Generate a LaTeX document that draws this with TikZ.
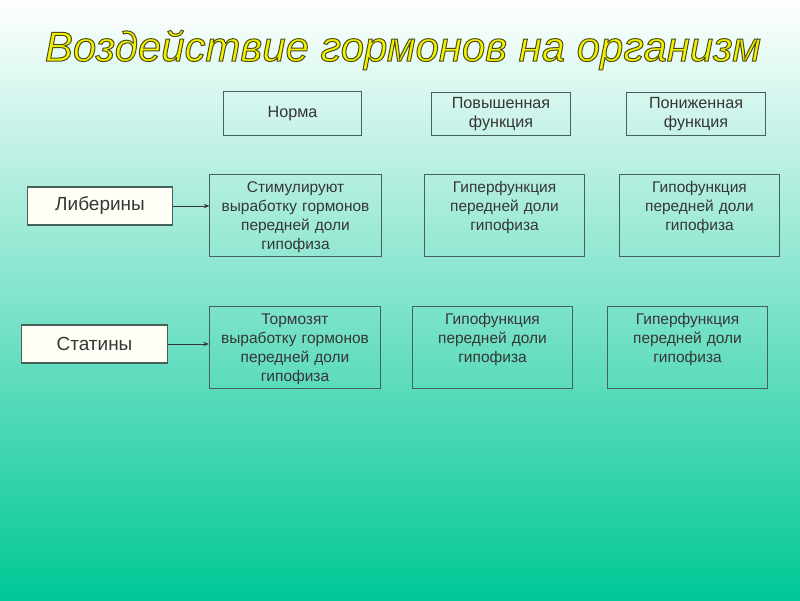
\documentclass[tikz,border=0pt]{standalone}
\usepackage{fontspec}
\setmainfont{Liberation Sans}
\usetikzlibrary{positioning,arrows.meta}
\definecolor{Edge}{HTML}{44625B}
\definecolor{Ink}{HTML}{363636}
\definecolor{Sea}{RGB}{0,200,150}
\definecolor{Gold}{HTML}{F2F200}
\definecolor{Cream}{HTML}{FFFFF6}
\newcommand{\rimtext}[1]{\special{pdf:literal direct 2 Tr 0.7 w 0.3 0.3 0.1 RG}#1\special{pdf:literal direct 0 Tr}}

\begin{document}
\begin{tikzpicture}[x=0.025cm,y=-0.025cm,
    head/.style={draw=Edge,line width=0.7pt,minimum width=3.47cm,minimum height=1.08cm,
                 font=\fontsize{11.5}{14}\selectfont,text=Ink,align=center,inner sep=0pt},
    src/.style={draw=Edge,fill=Cream,line width=0.8pt,minimum width=3.63cm,minimum height=0.95cm,
                font=\fontsize{13.5}{16}\selectfont,text=Ink,inner sep=0pt},
    cell/.style={draw=Edge,line width=0.7pt,text width=3.975cm,align=center,
                 font=\fontsize{11}{13.5}\selectfont,text=Ink,inner xsep=0pt,inner ysep=5pt,
                 text height=8pt,text depth=40.8pt},
    wide/.style={cell,text width=4.275cm},
    arr/.style={-{Stealth[length=4pt,width=3pt]},line width=0.7pt,color=Ink}
  ]
    \shade[top color=white,bottom color=Sea] (0,0) rectangle (800,600);
    \node[font=\fontsize{29.8}{32}\selectfont\itshape,text=Gold] (title) at (403,50)
      {\rimtext{Воздействие гормонов на организм}};

    \node[head] (norm) at (292.5,113.5) {Норма};
    \node[head] (up)   at (501,114) {Повышенная\\функция};
    \node[head] (down) at (696,114) {Пониженная\\функция};

    \node[src] (lib) at (100,206) {Либерины};
    \node[src] (stat) at (94.5,344) {Статины};

    \node[wide] (lnorm) at (295.5,215.5) {Стимулируют\\выработку гормонов\\передней доли\\гипофиза};
    \node[cell] (lup)   at (504.5,215.5) {Гиперфункция\\передней доли\\гипофиза};
    \node[cell] (ldown) at (699.5,215.5) {Гипофункция\\передней доли\\гипофиза};

    \node[wide] (snorm) at (295,347.5) {Тормозят\\выработку гормонов\\передней доли\\гипофиза};
    \node[cell] (sup)   at (492.5,347.5) {Гипофункция\\передней доли\\гипофиза};
    \node[cell] (sdown) at (687.5,347.5) {Гиперфункция\\передней доли\\гипофиза};

    \draw[arr] (lib) -- (lib -| lnorm.west);
    \draw[arr] (stat) -- (stat -| snorm.west);
  \end{tikzpicture}
\end{document}
